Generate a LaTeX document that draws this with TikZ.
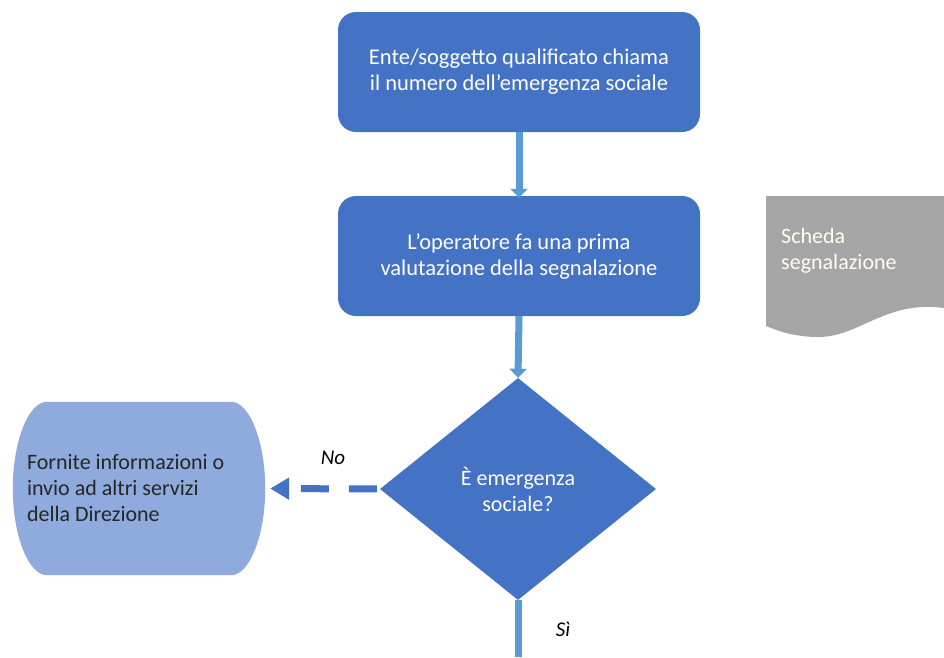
\documentclass[tikz,border=0pt]{standalone}
\usepackage{fontspec}
\setmainfont{Carlito}
\usetikzlibrary{shapes.geometric,arrows.meta,backgrounds}
\definecolor{boxblue}{HTML}{4472C4}
\definecolor{flowblue}{HTML}{5B9BD5}
\definecolor{paleblue}{HTML}{8FAADC}
\definecolor{docgray}{HTML}{A5A5A5}
\definecolor{darktext}{HTML}{262626}
\tikzset{
  every node/.style={font=\fontsize{22}{26}\selectfont},
  stepbox/.style={rectangle, rounded corners=18pt, fill=boxblue, text=white,
    minimum width=362pt, minimum height=120pt, align=center, inner sep=0pt,
    font=\fontsize{22.5}{26}\selectfont},
  decision/.style={diamond, fill=boxblue, text=white, minimum width=276pt,
    minimum height=222pt, align=center, inner sep=0pt},
  flow/.style={flowblue, line width=7pt,
    -{Triangle[width=17pt,length=9pt]}},
  altflow/.style={boxblue, line width=7pt, dash pattern=on 28pt off 20pt,
    -{Triangle[width=21pt,length=19pt]}},
  edgelabel/.style={font=\fontsize{21}{26}\selectfont\itshape, text=black}
}
\begin{document}
\begin{tikzpicture}[x=1pt,y=-1pt]
  \useasboundingbox (0,0) rectangle (944,657);
  \begin{scope}[on background layer]
    \fill[white] (0,0) rectangle (944,657);
  \end{scope}

  % main flow
  \node[stepbox] (call) at (519,72)
    {Ente/soggetto qualificato chiama\\il numero dell’emergenza sociale};
  \node[stepbox] (eval) at (519,256)
    {L’operatore fa una prima\\valutazione della segnalazione};
  \node[decision] (check) at (518,489) {È emergenza\\sociale?};

  % outcome for "No"
  \node[align=flush left, text width=200pt, inner sep=0pt, minimum width=252pt,
        minimum height=173pt, text=darktext] (info) at (139,488.5)
    {\hspace*{-12pt}Fornite informazioni o\\\hspace*{-12pt}invio ad altri servizi\\\hspace*{-12pt}della Direzione};
  \begin{scope}[on background layer]
    \fill[paleblue]
      ([xshift=34pt]info.north west) -- ([xshift=-34pt]info.north east)
      .. controls ([xshift=-16pt]info.north east)
             and ([yshift=48pt]info.east) .. (info.east)
      .. controls ([yshift=-48pt]info.east)
             and ([xshift=-16pt]info.south east)
      .. ([xshift=-34pt]info.south east)
      -- ([xshift=34pt]info.south west)
      .. controls ([xshift=16pt]info.south west)
             and ([yshift=-48pt]info.west) .. (info.west)
      .. controls ([yshift=48pt]info.west)
             and ([xshift=16pt]info.north west)
      .. ([xshift=34pt]info.north west) -- cycle;
  \end{scope}

  % side document
  \node[anchor=north west, align=left, inner sep=0pt, text=white!94!yellow]
    (form) at (781,228) {Scheda\\segnalazione};
  \begin{scope}[on background layer]
    \fill[docgray] (766,196) -- (944,196) -- (944,308)
      .. controls (885,300) and (860,337) .. (818,337)
      .. controls (795,337) and (778,331) .. (766,326) -- cycle;
  \end{scope}

  % connectors
  \coordinate (cont) at (518,657);
  \draw[flow] (call.south) -- ([yshift=-2pt]eval.north);
  \draw[flow] (eval.south) -- (check.north);
  \draw[altflow, shorten <=3pt, shorten >=5pt] (check.west) -- (info.east);
  \draw[flowblue, line width=7pt] (check.south) -- (cont);

  \node[edgelabel] (no) at (333,458) {No};
  \node[edgelabel] (si) at (563,629) {Sì};
\end{tikzpicture}
\end{document}
